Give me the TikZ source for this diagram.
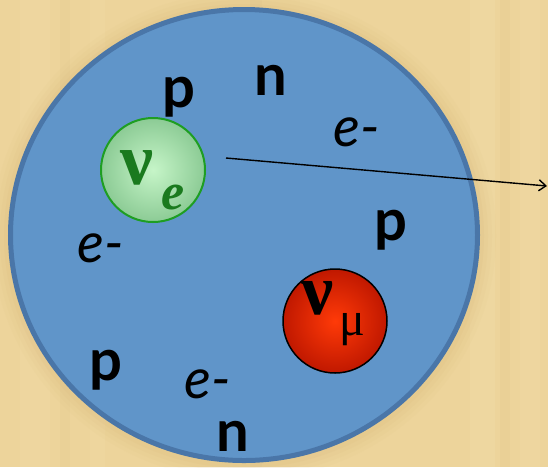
\documentclass[tikz,border=0pt]{standalone}
\usepackage{fontspec}
\setmainfont{Lato}
\newfontfamily\myserifgr{Liberation Serif}
\usetikzlibrary{shapes.geometric,arrows.meta}
\definecolor{parch}{HTML}{EDD49B}
\definecolor{parchlight}{HTML}{F3DFAE}
\definecolor{parchdark}{HTML}{D9BC80}
\definecolor{blobfill}{HTML}{6095C9}
\definecolor{blobedge}{HTML}{4A76A8}
\definecolor{greenin}{HTML}{C6F5C8}
\definecolor{greenout}{HTML}{8CCB95}
\definecolor{greenedge}{HTML}{1E9E22}
\definecolor{greentext}{HTML}{1A7A1E}
\definecolor{redin}{HTML}{FF3A08}
\definecolor{redout}{HTML}{C01800}
\tikzset{
  particle/.style={font=\fontsize{58}{58}\selectfont\bfseries, inner sep=0pt, text=black},
  electron/.style={font=\fontsize{56}{56}\selectfont\itshape, inner sep=0pt, text=black},
  neutrino/.style={circle, inner sep=0pt, minimum size=104pt},
  greek/.style={inner sep=0pt},
}
\begin{document}
\begin{tikzpicture}[x=1pt,y=-1pt]
  \fill[parch] (0,0) rectangle (548,467);
  \useasboundingbox (0,0) rectangle (548,467);
  % faint parchment streaks
  \foreach \x/\w/\o in {20/30/0.25,90/15/0.2,300/40/0.2,470/25/0.3,520/20/0.25}{
    \fill[parchlight, opacity=\o] (\x,0) rectangle (\x+\w,467);
  }
  \foreach \x/\w/\o in {60/10/0.12,250/12/0.1,500/10/0.15}{
    \fill[parchdark, opacity=\o] (\x,0) rectangle (\x+\w,467);
  }
  % soft shadow halo
  \foreach \r/\o in {16/0.05,12/0.06,8/0.08,4/0.1}{
    \fill[parchdark!80!brown, opacity=\o] (244,236) ellipse [x radius=236+\r, y radius=228+\r];
  }
  \node[ellipse, draw=blobedge, fill=blobfill, line width=5pt, inner sep=0pt,
        minimum width=467pt, minimum height=451pt] (nucleus) at (244,235) {};
  % particles
  \node[particle] (p1) at (179,97) {p};
  \node[particle] (n1) at (271,80) {n};
  \node[electron] (e1) at (357,132) {e-};
  \node[particle] (p2) at (391,230) {p};
  \node[electron] (e2) at (101,248) {e-};
  \node[particle] (p3) at (106,370) {p};
  \node[electron] (e3) at (208,384) {e-};
  \node[particle] (n2) at (233,436) {n};
  % neutrinos
  \node[neutrino, draw=greenedge, line width=2pt, inner color=greenin, outer color=greenout] (nue) at (153,170) {};
  \node[neutrino, draw=black, line width=1.5pt, inner color=redin, outer color=redout] (numu) at (335,321) {};
  \node[greek, text=greentext, font=\myserifgr\fontsize{74}{74}\selectfont\bfseries] (nuelabel) at (137,168) {ν};
  \node[greek, text=greentext, font=\myserifgr\fontsize{52}{52}\selectfont\bfseries\itshape] (esub) at (173,197) {e};
  \node[greek, text=black, font=\myserifgr\fontsize{72}{72}\selectfont\bfseries] (numulabel) at (318,298) {ν};
  \node[greek, text=black, font=\myserifgr\fontsize{48}{48}\selectfont] (musub) at (352,330) {μ};
  % arrow
  \coordinate (arrstart) at (226,158);
  \coordinate (arrend) at (547,186);
  \draw[line width=1.4pt, -{Straight Barb[length=7pt,width=11pt]}] (arrstart) -- (arrend);
\end{tikzpicture}
\end{document}
